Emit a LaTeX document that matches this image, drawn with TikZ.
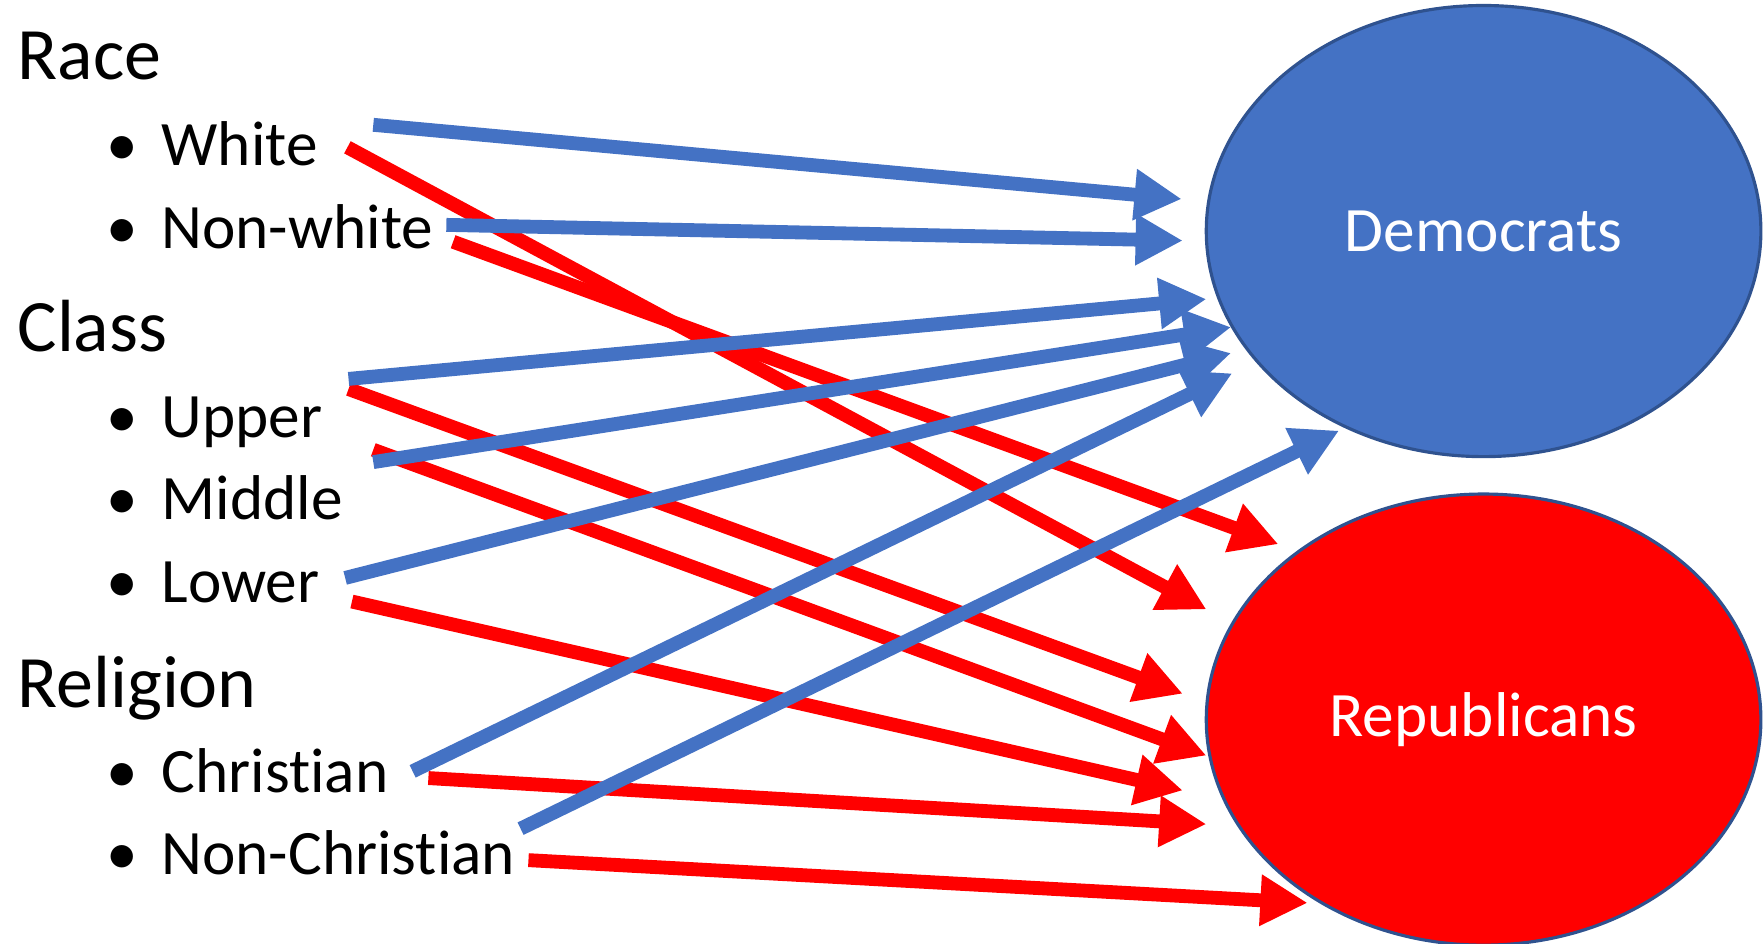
\documentclass[tikz,border=0pt]{standalone}
\usepackage{fontspec}
\setmainfont{Carlito}[Ligatures=NoCommon]
\usetikzlibrary{arrows.meta,shapes.geometric}
\definecolor{demblue}{HTML}{4472C4}
\definecolor{repred}{HTML}{FF0000}
\definecolor{rimblue}{HTML}{2F528F}
\tikzset{
% headings and bullet items of the list on the left
group label/.style={anchor=base west,inner sep=0,font=\fontsize{18.7}{22}\selectfont},
item label/.style={anchor=base west,inner sep=0,font=\fontsize{16}{19}\selectfont},
% the two parties
party/.style={ellipse,draw=rimblue,line width=0.8pt,minimum width=4.93cm,minimum height=4.01cm,inner sep=0,text=white,font=\fontsize{16}{19}\selectfont},
% thick arrows to each party
dem arrow/.style={draw=demblue,line width=3.5pt,-{Triangle[length=0.42cm,width=0.43cm]}},
rep arrow/.style={draw=repred,line width=3.5pt,-{Triangle[length=0.42cm,width=0.43cm]}}
}
\newcommand{\bul}{\makebox[0pt][r]{\textbullet\hspace{6pt}}}

\begin{document}
\begin{tikzpicture}[x=0.01cm,y=-0.01cm]
\useasboundingbox (0,0) rectangle (1568,839);
% The list
\node[group label] (race) at (15,71) {Race};
\node[item label] (white) at (143,147) {\bul White};
\node[item label] (nonwhite) at (143,221) {\bul Non-white};
\node[group label] (class) at (15,313) {Class};
\node[item label] (upper) at (143,389) {\bul Upper};
\node[item label] (middle) at (143,462) {\bul Middle};
\node[item label] (lower) at (143,536) {\bul Lower};
\node[group label] (religion) at (15,629) {Religion};
\node[item label] (christ) at (143,705) {\bul Christian};
\node[item label] (nonchrist) at (143,778) {\bul Non-Christian};
% The parties
\node[party,fill=demblue] (dem) at (1319.5,205.5) {Democrats};
\node[party,fill=repred] (rep) at (1319.5,640) {Republicans};
% arrow ends
\coordinate (white-d) at (332,111);
\coordinate (nonwhite-d) at (397,200);
\coordinate (upper-d) at (310,337);
\coordinate (middle-d) at (332,411);
\coordinate (lower-d) at (307,514);
\coordinate (christ-d) at (367,686);
\coordinate (nonchrist-d) at (463,737);
\coordinate (white-r) at (309,131);
\coordinate (nonwhite-r) at (403,215);
\coordinate (upper-r) at (310,346);
\coordinate (middle-r) at (332,400);
\coordinate (lower-r) at (313,535);
\coordinate (christ-r) at (381,692);
\coordinate (nonchrist-r) at (470,765);
% arrow tips
\coordinate (d1) at (1051,177);
\coordinate (d2) at (1052,214);
\coordinate (d3) at (1073,266);
\coordinate (d4) at (1095,291);
\coordinate (d5) at (1095,314);
\coordinate (d6) at (1096,332);
\coordinate (d7) at (1191,383);
\coordinate (r1) at (1073,542);
\coordinate (r2) at (1137,484);
\coordinate (r3) at (1052,617);
\coordinate (r4) at (1073,672);
\coordinate (r5) at (1052,703);
\coordinate (r6) at (1073,733);
\coordinate (r7) at (1163,803);
% Red first, blue on top
\foreach \a/\b in {white-r/r1,nonwhite-r/r2,upper-r/r3,middle-r/r4,lower-r/r5,christ-r/r6,nonchrist-r/r7}
\draw[rep arrow] (\a) -- (\b);
\foreach \a/\b in {white-d/d1,nonwhite-d/d2,upper-d/d3,middle-d/d4,lower-d/d5,christ-d/d6,nonchrist-d/d7}
\draw[dem arrow] (\a) -- (\b);
\end{tikzpicture}
\end{document}
